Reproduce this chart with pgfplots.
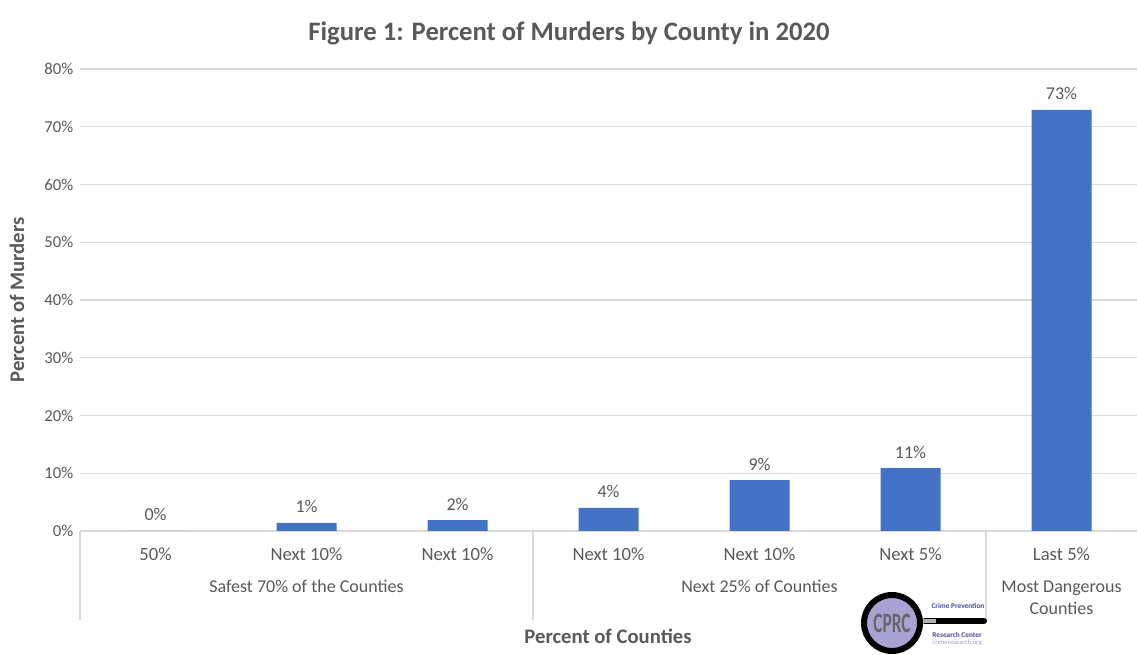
\documentclass[border=0pt]{standalone}
\usepackage{pgfplots}
\pgfplotsset{compat=1.18}
\usepackage{fontspec}
\setmainfont{Carlito}
\definecolor{txt}{HTML}{595959}
\definecolor{gridc}{HTML}{D9D9D9}
\definecolor{barc}{HTML}{4472C4}
\definecolor{logop}{HTML}{4A4A9C}
\definecolor{lens}{HTML}{A9A3D3}
\begin{document}
\begin{tikzpicture}
\path[use as bounding box] (0,0) rectangle (852.75pt,491.25pt);
\begin{axis}[
  at={(60pt,93pt)}, anchor=south west,
  scale only axis, width=792.75pt, height=346.5pt,
  xmin=-0.5, xmax=6.5, ymin=0, ymax=80,
  /pgf/number format/assume math mode=true,
  axis x line*=bottom, axis y line*=left,
  x axis line style={draw=gridc, line width=0.9pt},
  y axis line style={draw=none},
  major tick length=0pt,
  ytick={0,10,...,80},
  yticklabels={0\%,10\%,20\%,30\%,40\%,50\%,60\%,70\%,80\%},
  yticklabel style={font=\fontsize{12.5}{14}\selectfont, text=txt, xshift=-1.5pt},
  ymajorgrids, grid style={gridc, line width=0.8pt},
  xtick={0,...,6},
  xticklabels={50\%,Next 10\%,Next 10\%,Next 10\%,Next 10\%,Next 5\%,Last 5\%},
  xticklabel style={font=\fontsize{14}{16}\selectfont, text=txt, anchor=base, yshift=-22.5pt},
  ybar, bar width=45pt,
  clip=false,
  nodes near coords={\pgfmathprintnumber[fixed,precision=0]{\pgfplotspointmeta}\%},
  nodes near coords style={font=\fontsize{13.5}{15}\selectfont, text=txt, anchor=base, yshift=7.5pt},
]
\addplot[fill=barc, draw=none] coordinates {(0,0) (1,1.4) (2,1.9) (3,4.0) (4,8.8) (5,10.9) (6,72.9)};
\draw[gridc, line width=0.8pt] (axis cs:-0.5,0) -- ++(0pt,-67pt);
\draw[gridc, line width=0.8pt] (axis cs:2.5,0) -- ++(0pt,-67pt);
\draw[gridc, line width=0.8pt] (axis cs:5.5,0) -- ++(0pt,-67pt);
\node[anchor=base, text=txt, font=\fontsize{13.5}{15}\selectfont] at ([yshift=-46.5pt]axis cs:1,0) {Safest 70\% of the Counties};
\node[anchor=base, text=txt, font=\fontsize{13.5}{15}\selectfont] at ([yshift=-46.5pt]axis cs:4,0) {Next 25\% of Counties};
\node[anchor=base, text=txt, font=\fontsize{13.5}{15}\selectfont] at ([yshift=-46.5pt]axis cs:6,0) {Most Dangerous};
\node[anchor=base, text=txt, font=\fontsize{13.5}{15}\selectfont] at ([yshift=-63pt]axis cs:6,0) {Counties};
\end{axis}
\begin{scope}[x=0.75pt, y=0.75pt]
\node[text=txt, font=\fontsize{20}{24}\selectfont\bfseries] at (569,622) {Figure 1: Percent of Murders by County in 2020};
\node[text=txt, font=\fontsize{15.5}{18}\selectfont\bfseries, rotate=90] at (17,355) {Percent of Murders};
\node[text=txt, font=\fontsize{15.5}{18}\selectfont\bfseries] at (608,19) {Percent of Counties};
% logo
\draw[black, line width=4.5pt, line cap=round] (925,34) -- (984,34);
\draw[gray!60, line width=3.5pt] (920,34) -- (936,34);
\filldraw[fill=lens, draw=black, line width=4.5pt] (892,32) circle (28);
\node[text=black!60, font=\fontsize{21}{21}\selectfont\bfseries, xscale=0.62] at (892,32) {CPRC};
\node[text=logop, font=\fontsize{5.5}{6}\selectfont\bfseries] at (958,49) {Crime Prevention};
\node[text=logop, font=\fontsize{5.5}{6}\selectfont\bfseries] at (957,20) {Research Center};
\node[text=lens!80!gray, font=\fontsize{5}{5}\selectfont] at (957,12) {crimeresearch.org};
\end{scope}
\end{tikzpicture}
\end{document}
